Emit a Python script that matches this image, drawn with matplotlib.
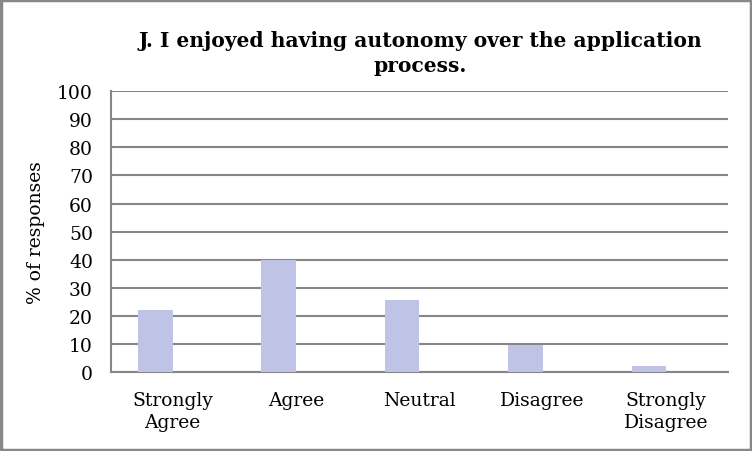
import matplotlib
matplotlib.use('Agg')
import matplotlib.pyplot as plt
import numpy as np
from matplotlib.patches import Rectangle

categories = ['Strongly\nAgree', 'Agree', 'Neutral', 'Disagree', 'Strongly\nDisagree']
percent = [22.2, 40.0, 25.9, 9.6, 2.2]
yticks = [0, 10, 20, 30, 40, 50, 60, 70, 80, 90, 100]

plt.rcParams['font.family'] = ['DejaVu Serif']

fig = plt.figure(figsize=(7.52, 4.52), dpi=100)
ax = fig.add_axes([0.1476, 0.1737, 0.8201, 0.6228])

x = np.arange(len(categories))
# excel-style clustered bar with an empty second series -> bar sits left of centre
ax.bar(x - 0.14, percent, width=0.28, color='#bfc3e6', zorder=3)

ax.set_xlim(-0.5, len(categories) - 0.5)
ax.set_ylim(0, 100)
ax.set_yticks(yticks)
ax.set_xticks(x)
ax.set_xticklabels(categories, fontsize=13.5, linespacing=1.3)
ax.tick_params(axis='y', labelsize=13.5, length=0, pad=13)
ax.tick_params(axis='x', length=0, pad=13)
ax.yaxis.grid(True, color='#868686', linewidth=1.5, zorder=0)

for side in ['top', 'right']:
    ax.spines[side].set_visible(False)
for side in ['left', 'bottom']:
    ax.spines[side].set_color('#868686')
    ax.spines[side].set_linewidth(1.5)

ax.set_ylabel('% of responses', fontsize=13.5, labelpad=9)

fig.text(0.5585, 0.8816, 'J. I enjoyed having autonomy over the application\nprocess.',
         ha='center', va='center', fontsize=14.6, fontweight='bold', linespacing=1.3)

fig.patches.append(Rectangle((0.0015, 0.0025), 0.997, 0.995, transform=fig.transFigure,
                             fill=False, edgecolor='#888888', linewidth=2.5))

fig.savefig('out.png', dpi=100)
